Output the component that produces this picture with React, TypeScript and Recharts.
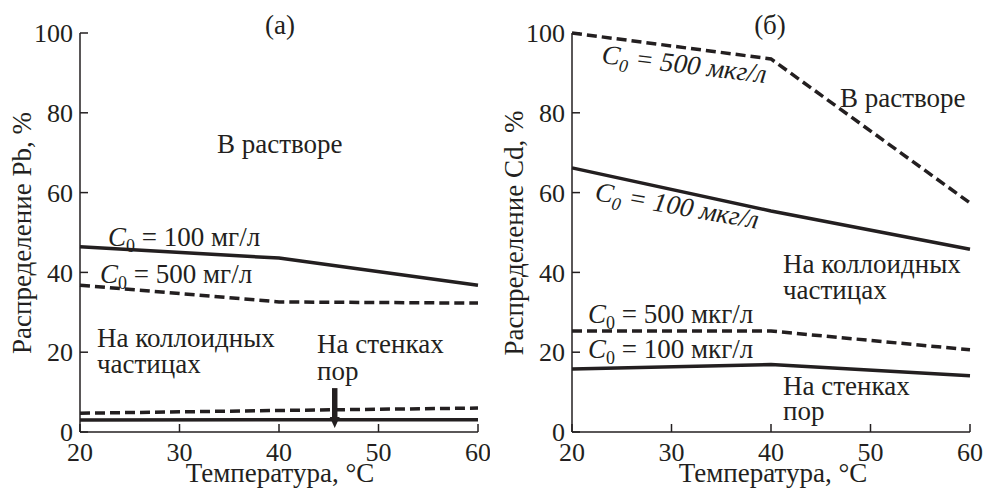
import React from 'react';
import { LineChart, Line, XAxis, YAxis, ReferenceLine } from 'recharts';

// temperatures, °C
const temps = [20, 40, 60];
const xTicks = [20, 30, 40, 50, 60];
const yTicks = [0, 20, 40, 60, 80, 100];

// (а) Pb distribution, %
const pbSolution100 = [46.4, 43.6, 36.8];
const pbSolution500 = [36.8, 32.6, 32.3];
const pbWalls500 = [4.7, 5.4, 6.0];
const pbWalls100 = [3.0, 3.1, 3.1];

// (б) Cd distribution, %
const cdSolution500 = [100, 93.5, 57.4];
const cdSolution100 = [66.2, 55.4, 45.8];
const cdWalls500 = [25.3, 25.3, 20.6];
const cdWalls100 = [15.8, 16.9, 14.1];

const pbData = temps.map((t, i) => ({
  t,
  s100: pbSolution100[i],
  s500: pbSolution500[i],
  w500: pbWalls500[i],
  w100: pbWalls100[i],
}));

const cdData = temps.map((t, i) => ({
  t,
  s500: cdSolution500[i],
  s100: cdSolution100[i],
  w500: cdWalls500[i],
  w100: cdWalls100[i],
}));

const INK = '#231f20';
const FONT = 'Liberation Serif, serif';
const FS = 27;
const TICK_FS = 26;

const YTick = (props: any) => {
  const { x, y, payload } = props;
  return (
    <g>
      <line x1={x} x2={x + 8} y1={y} y2={y} stroke={INK} strokeWidth={1.5} />
      <text x={x - 7} y={y} dy="0.35em" textAnchor="end" fill={INK} fontFamily={FONT} fontSize={TICK_FS}>
        {payload.value}
      </text>
    </g>
  );
};

const XTick = (props: any) => {
  const { x, y, payload } = props;
  return (
    <g>
      <line x1={x} x2={x} y1={y} y2={y - 8} stroke={INK} strokeWidth={1.5} />
      <text x={x} y={y + 29} textAnchor="middle" fill={INK} fontFamily={FONT} fontSize={TICK_FS}>
        {payload.value}
      </text>
    </g>
  );
};

const Arrow = (props: any) => {
  const { x1, y1, x2, y2 } = props;
  return (
    <g>
      <line x1={x1} y1={y1} x2={x2} y2={y2 - 9} stroke={INK} strokeWidth={5.5} />
      <polygon points={`${x2 - 5},${y2 - 11} ${x2 + 5},${y2 - 11} ${x2},${y2}`} fill={INK} />
    </g>
  );
};

const solid = { stroke: INK, strokeWidth: 3.5, dot: false, isAnimationActive: false, type: 'linear' as const };
const dashed = { ...solid, strokeDasharray: '10 5' };

const C0 = ({ rest, italic }: { rest: string; italic?: boolean }) => (
  <>
    <tspan fontStyle="italic">C</tspan>
    <tspan fontStyle={italic ? 'italic' : 'normal'} fontSize={18} dy={6}>0</tspan>
    <tspan dy={-6} fontStyle={italic ? 'italic' : 'normal'}>{rest}</tspan>
  </>
);

function Panel({ data, left, width, yAxisWidth, right, children }: any) {
  return (
    <div style={{ position: 'absolute', left, top: 0 }}>
      <LineChart width={width} height={489} data={data} margin={{ top: 33, right, bottom: 0, left: 0 }}>
        <XAxis
          dataKey="t"
          type="number"
          domain={[20, 60]}
          ticks={xTicks}
          interval={0}
          height={57}
          tickSize={0}
          tickMargin={0}
          tickLine={false}
          tick={<XTick />}
          axisLine={{ stroke: INK, strokeWidth: 1.5 }}
        />
        <YAxis
          type="number"
          domain={[0, 100]}
          ticks={yTicks}
          interval={0}
          width={yAxisWidth}
          tickSize={0}
          tickMargin={0}
          tickLine={false}
          tick={<YTick />}
          axisLine={{ stroke: INK, strokeWidth: 1.5 }}
        />
        {children}
      </LineChart>
    </div>
  );
}

export default function App() {
  return (
    <div style={{ position: 'absolute', left: 0, top: 0, width: 985, height: 489, background: '#fff' }}>
      <Panel data={pbData} left={0} width={490} yAxisWidth={80} right={12}>
        <Line dataKey="s100" {...solid} />
        <Line dataKey="s500" {...dashed} />
        <Line dataKey="w500" {...dashed} />
        <Line dataKey="w100" {...solid} />
        <ReferenceLine segment={[{ x: 45.6, y: 11 }, { x: 45.6, y: 1 }]} shape={<Arrow />} />
      </Panel>
      <Panel data={cdData} left={490} width={495} yAxisWidth={82} right={15}>
        <Line dataKey="s500" {...dashed} />
        <Line dataKey="s100" {...solid} />
        <Line dataKey="w500" {...dashed} />
        <Line dataKey="w100" {...solid} />
      </Panel>
      <svg
        width={985}
        height={489}
        style={{ position: 'absolute', left: 0, top: 0, pointerEvents: 'none' }}
        fontFamily={FONT}
        fontSize={FS}
        fill={INK}
      >
        {/* panel (а) */}
        <text x={280} y={34} textAnchor="middle">(а)</text>
        <text x={217} y={153}>В растворе</text>
        <text x={108} y={246}><C0 rest=" = 100 мг/л" /></text>
        <text x={100} y={283}><C0 rest=" = 500 мг/л" /></text>
        <text x={97} y={347}>На коллоидных</text>
        <text x={97} y={373}>частицах</text>
        <text x={317} y={353}>На стенках</text>
        <text x={317} y={380}>пор</text>
        <text x={280} y={482} textAnchor="middle">Температура, °С</text>
        <text x={31} y={233} textAnchor="middle" transform="rotate(-90 31 233)">Распределение Pb, %</text>

        {/* panel (б) */}
        <text x={770} y={34} textAnchor="middle">(б)</text>
        <text x={601} y={63} transform="rotate(7 601 63)"><C0 rest=" = 500 мкг/л" italic /></text>
        <text x={840} y={107}>В растворе</text>
        <text x={594} y={200} transform="rotate(10 594 200)"><C0 rest=" = 100 мкг/л" italic /></text>
        <text x={783} y={273}>На коллоидных</text>
        <text x={783} y={299}>частицах</text>
        <text x={588} y={323}><C0 rest=" = 500 мкг/л" /></text>
        <text x={588} y={358}><C0 rest=" = 100 мкг/л" /></text>
        <text x={783} y={395}>На стенках</text>
        <text x={783} y={420}>пор</text>
        <text x={773} y={482} textAnchor="middle">Температура, °С</text>
        <text x={523} y={233} textAnchor="middle" transform="rotate(-90 523 233)">Распределение Cd, %</text>
      </svg>
    </div>
  );
}
